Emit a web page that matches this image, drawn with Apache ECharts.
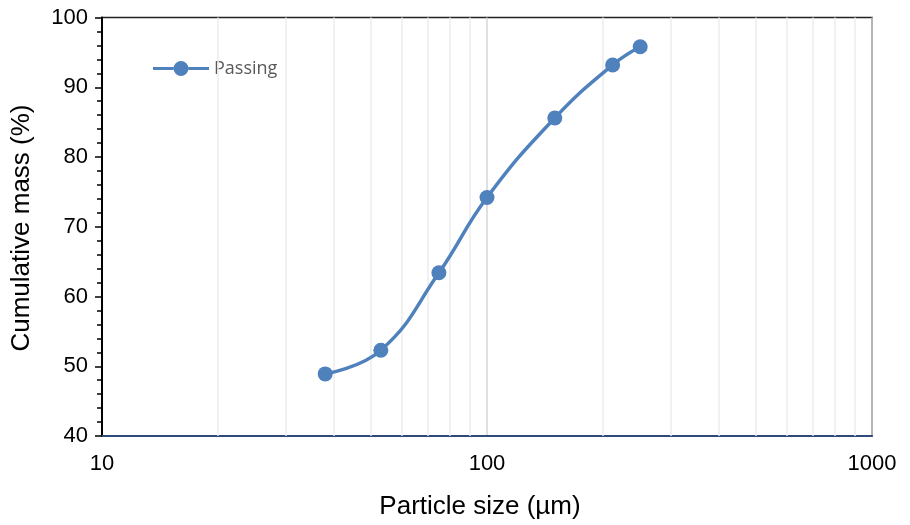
<!DOCTYPE html>
<html>
<head>
<meta charset="utf-8">
<script src="https://cdn.jsdelivr.net/npm/echarts@6/dist/echarts.min.js"></script>
<style>
  html, body { margin: 0; padding: 0; background: #fff; }
  #chart { width: 910px; height: 525px; }
</style>
</head>
<body>
<div id="chart"></div>
<script>
// Sieve sizes (µm) and cumulative mass passing (%)
const sizes = [38, 53, 75, 100, 150, 212, 250];
const passing = [48.9, 52.3, 63.4, 74.2, 85.6, 93.2, 95.8];

// Intermediate decade lines on the log axis
const minorGrid = [20, 30, 40, 50, 60, 70, 80, 90, 200, 300, 400, 500, 600, 700, 800, 900];

const seriesName = 'Passing';
const xTitle = 'Particle size (µm)';
const yTitle = 'Cumulative mass (%)';

// Legend key: a thick line with a round marker in the middle (56 x 15 box)
const legendIcon = 'path://M0,6 L20.5,6 L20.5,9 L0,9 Z ' +
  'M35.5,6 L56,6 L56,9 L35.5,9 Z ' +
  'M35.5,7.5 A7.5,7.5 0 1,1 20.5,7.5 A7.5,7.5 0 1,1 35.5,7.5 Z';

const chart = echarts.init(document.getElementById('chart'), null, { renderer: 'canvas' });

const labelFont = { color: '#000', fontFamily: 'Liberation Sans, Arial, sans-serif', fontSize: 22 };

chart.setOption({
  animation: false,
  backgroundColor: '#fff',
  grid: {
    left: 102, right: 38, top: 17.5, bottom: 86.7,
    show: true, borderColor: '#222', borderWidth: 1.5, backgroundColor: 'transparent'
  },
  legend: {
    left: 148, top: 54.5,
    itemWidth: 56, itemHeight: 15,
    icon: legendIcon,
    textStyle: { color: '#595959', fontFamily: 'Open Sans, Noto Sans, sans-serif', fontSize: 18 },
    data: [seriesName]
  },
  graphic: [{
    type: 'text',
    x: 22, y: 228, rotation: Math.PI / 2,
    style: {
      text: yTitle, align: 'center', verticalAlign: 'middle',
      fill: '#000', font: '26px "Liberation Sans", Arial, sans-serif'
    }
  }],
  xAxis: {
    type: 'log', logBase: 10, min: 10, max: 1000,
    name: xTitle, nameLocation: 'middle', nameGap: 58,
    nameTextStyle: { color: '#000', fontFamily: 'Liberation Sans, Arial, sans-serif', fontSize: 26, padding: [0, 14, 0, 0] },
    axisLine: { show: true, lineStyle: { color: '#2e4a78', width: 2 } },
    axisTick: { show: false },
    axisLabel: Object.assign({ margin: 17, formatter: v => String(Math.round(v)) }, labelFont),
    splitLine: { show: true, lineStyle: { color: '#d4d4d4', width: 1.5 } },
    minorTick: { show: false },
    minorSplitLine: { show: false }
  },
  yAxis: {
    type: 'value', min: 40, max: 100, interval: 10,
    axisLine: { show: true, lineStyle: { color: '#000', width: 2 } },
    axisTick: { show: true, length: 7, lineStyle: { color: '#000', width: 1.5 } },
    minorTick: { show: true, splitNumber: 5, length: 5, lineStyle: { color: '#000', width: 1.5 } },
    axisLabel: Object.assign({ margin: 14 }, labelFont),
    splitLine: { show: false }
  },
  series: [
    {
      type: 'line',
      name: '_grid',
      data: [],
      z: 1,
      silent: true,
      markLine: {
        silent: true,
        symbol: ['none', 'none'],
        label: { show: false },
        lineStyle: { color: '#ececec', width: 1.5, type: 'solid' },
        data: minorGrid.map(v => ({ xAxis: v }))
      }
    },
    {
      type: 'line',
      name: seriesName,
      z: 5,
      data: sizes.map((s, i) => [s, passing[i]]),
      smooth: 0.45,
      symbol: 'circle',
      symbolSize: 15,
      lineStyle: { color: '#4f81bd', width: 3.5 },
      itemStyle: { color: '#4f81bd' }
    }
  ]
});
</script>
</body>
</html>
